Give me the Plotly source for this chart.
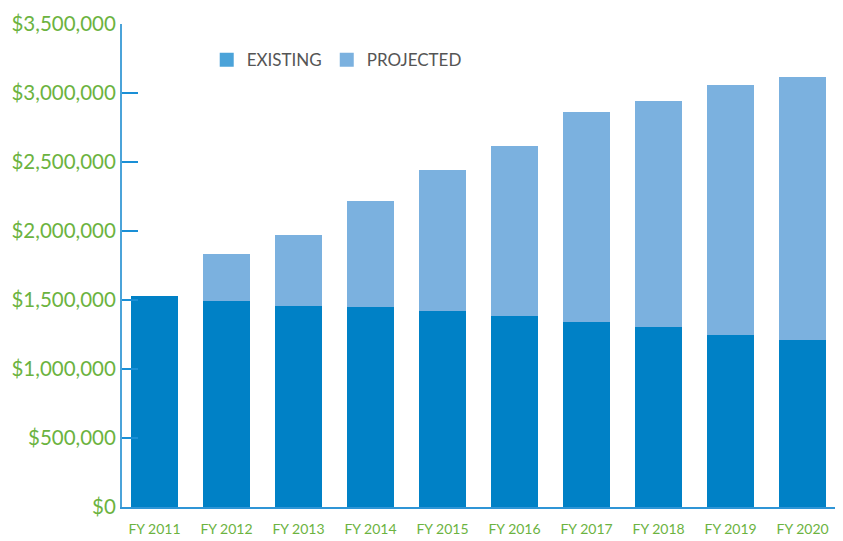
import plotly.graph_objects as go

years = ["FY 2011", "FY 2012", "FY 2013", "FY 2014", "FY 2015",
         "FY 2016", "FY 2017", "FY 2018", "FY 2019", "FY 2020"]
existing = [1530000, 1494000, 1458000, 1446000, 1422000,
            1381000, 1343000, 1307000, 1249000, 1213000]
projected = [0, 338000, 511000, 775000, 1022000,
             1236000, 1519000, 1634000, 1811000, 1904000]
y_ticks = [0, 500000, 1000000, 1500000, 2000000, 2500000, 3000000, 3500000]
y_labels = ["$0", "$500,000", "$1,000,000", "$1,500,000", "$2,000,000",
            "$2,500,000", "$3,000,000", "$3,500,000"]

FONT = "Lato, 'Open Sans', sans-serif"
GREEN = "#6cb33f"

fig = go.Figure()
fig.add_trace(go.Bar(x=years, y=existing, name="EXISTING", showlegend=False,
                     marker=dict(color="#0081c6", line=dict(width=0))))
fig.add_trace(go.Bar(x=years, y=projected, name="PROJECTED", showlegend=False,
                     marker=dict(color="#7bb1df", line=dict(width=0))))
# legend swatches
fig.add_trace(go.Scatter(x=[None], y=[None], mode="markers", name="EXISTING",
                         marker=dict(symbol="square", size=14, color="#4ba3d9")))
fig.add_trace(go.Scatter(x=[None], y=[None], mode="markers", name="PROJECTED",
                         marker=dict(symbol="square", size=14, color="#7bb1df")))

fig.update_layout(
    width=835, height=533,
    barmode="stack", bargap=0.347,
    plot_bgcolor="white", paper_bgcolor="white",
    margin=dict(l=114, r=3, t=13, b=33.5),
    font=dict(family=FONT),
    showlegend=True,
    legend=dict(orientation="h", x=0.118, y=0.925, xanchor="left", yanchor="middle",
                traceorder="normal", itemsizing="trace",
                font=dict(size=17, color="#555555", family=FONT),
                bgcolor="rgba(0,0,0,0)"),
    xaxis=dict(range=[-0.451, 9.52], showline=True, linecolor="#2f95d6", linewidth=2,
               ticks="", showgrid=False, tickfont=dict(size=14, color=GREEN, family=FONT),
               ticklabelstandoff=8),
    yaxis=dict(range=[0, 3500000], tickvals=y_ticks, ticktext=y_labels,
               showline=True, linecolor="#4ba3d9", linewidth=2,
               ticks="inside", ticklen=16, tickwidth=2, tickcolor="#1a8fd6",
               showgrid=False, zeroline=False,
               tickfont=dict(size=20.5, color=GREEN, family=FONT)),
)

fig.write_html("out.html")
